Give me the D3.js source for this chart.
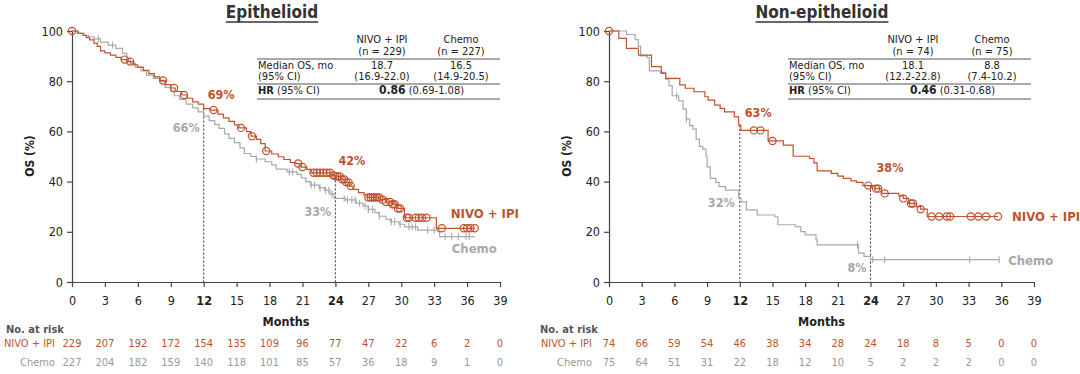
<!DOCTYPE html>
<html>
<head>
<meta charset="utf-8">
<script src="https://cdn.jsdelivr.net/npm/d3@7"></script>
<style>
  body { margin: 0; background: #fff; }
  svg text { font-family: 'DejaVu Sans Condensed', 'DejaVu Sans', sans-serif; }
</style>
</head>
<body>
<svg id="chart" width="1080" height="374"></svg>
<script>
const months = [0, 3, 6, 9, 12, 15, 18, 21, 24, 27, 30, 33, 36, 39];
const yTicks = [0, 20, 40, 60, 80, 100];

// Epithelioid: step points [month, OS %]
const epiNivoCurve = [[0,100],[0.5,99.1],[1.0,98.3],[1.3,97.4],[1.6,96.5],[2.0,95.2],[2.3,93.9],[2.6,92.1],[3.0,91.3],
  [3.5,90.4],[4.0,89.5],[4.5,88.6],[5.0,87.8],[5.6,86.5],[6.0,85.6],[6.5,84.3],[7.0,83.0],[7.5,81.7],[8.0,80.3],
  [8.5,78.6],[9.0,77.3],[9.4,75.9],[10.0,74.5],[10.5,73.2],[11.0,71.8],[11.5,70.9],[12.0,69.1],[12.6,68.5],
  [13.3,66.9],[13.8,65.4],[14.3,64.0],[14.8,62.6],[15.2,61.4],[15.9,59.9],[16.3,58.1],[16.8,56.8],[17.2,55.1],
  [17.6,52.2],[18.2,51.0],[18.8,49.9],[19.3,48.8],[19.9,47.6],[20.4,47.2],[20.9,45.8],[21.4,44.9],[21.8,43.5],
  [23.6,42.5],[24.0,42.1],[24.5,40.9],[24.9,39.7],[25.3,38.2],[25.6,36.9],[26.1,35.6],[26.6,34.8],[26.9,33.7],
  [28.1,32.8],[28.6,31.9],[29.2,31.0],[29.7,29.3],[30.3,25.6],[33.2,21.4],[36.7,21.4]];
const epiNivoCensor = [0, 4.8, 5.3, 8.3, 9.3, 10.2, 12.9, 15.4, 16.4, 17.7, 20.6, 21.0, 22.0, 22.3, 22.6, 22.9,
  23.2, 23.5, 23.8, 24.0, 24.2, 24.4, 24.6, 24.8, 25.0, 25.2, 25.4, 27.0, 27.2, 27.4, 27.6, 27.8, 28.0, 28.3,
  28.6, 29.0, 29.2, 29.4, 29.7, 29.9, 30.5, 30.7, 31.3, 31.6, 31.9, 32.3, 33.7, 35.7, 36.0, 36.3, 36.7];
const epiChemoCurve = [[0,100],[0.6,99.1],[1.1,98.2],[1.5,97.7],[2.0,96.9],[2.6,95.6],[3.3,94.4],[4.0,93.1],
  [4.6,91.1],[5.0,89.0],[5.3,87.1],[5.8,85.5],[6.3,84.1],[6.8,82.4],[7.4,81.1],[8.0,79.8],[8.5,77.5],[9.0,75.8],
  [9.3,74.2],[9.8,72.7],[10.4,70.9],[11.0,69.4],[11.5,67.8],[12.0,66.1],[12.5,64.3],[13.0,62.8],[13.4,61.2],
  [13.9,59.0],[14.3,57.2],[14.8,55.5],[15.3,53.4],[15.7,51.2],[16.3,50.0],[16.8,49.0],[17.6,47.9],[18.2,46.7],
  [18.6,45.0],[19.6,43.9],[20.5,42.9],[20.9,41.5],[21.3,40.0],[21.7,38.6],[22.5,37.5],[23.0,36.6],[23.5,35.0],
  [23.9,33.3],[24.9,32.7],[25.9,31.4],[26.5,30.3],[27.0,28.9],[27.6,27.6],[28.0,26.2],[28.6,25.0],[29.0,24.0],
  [29.8,23.0],[30.3,22.0],[31.5,20.7],[33.3,20.1],[33.5,18.1],[36.7,18.1]];
const epiChemoCensor = [2.4, 3.7, 16.8, 19.8, 20.1, 21.8, 22.1, 22.6, 23.1, 23.4, 23.7, 24.8, 25.1, 25.5, 25.8,
  26.2, 26.7, 27.0, 27.4, 28.0, 29.1, 29.4, 29.9, 30.7, 31.0, 31.3, 32.4, 33.0, 34.0, 34.6, 35.2, 35.9, 36.2];
const epiRiskNivo = [229, 207, 192, 172, 154, 135, 109, 96, 77, 47, 22, 6, 2, 0];
const epiRiskChemo = [227, 204, 182, 159, 140, 118, 101, 85, 57, 36, 18, 9, 1, 0];
const epiTable = ["(n = 229)", "(n = 227)", "18.7", "16.5", "(16.9-22.0)", "(14.9-20.5)", "0.86", "(0.69-1.08)"];
const epiMarks = [["69%", "66%"], ["42%", "33%"]];

// Non-epithelioid
const nonNivoCurve = [[0,100],[0.9,97.1],[1.6,93.1],[2.7,90.4],[3.9,85.8],[4.8,83.1],[5.2,81.1],[6.5,78.5],
  [7.0,77.2],[7.8,75.8],[8.8,73.8],[9.1,72.5],[9.7,70.5],[10.2,69.2],[10.6,67.8],[11.5,65.8],[11.9,62.5],
  [12.1,60.4],[14.6,56.2],[16.0,54.5],[16.9,50.1],[18.4,49.2],[18.8,47.5],[19.1,44.3],[20.4,43.3],[21.0,42.2],
  [21.5,41.3],[22.2,40.3],[22.7,39.7],[23.3,38.4],[24.4,37.2],[25.0,35.3],[26.6,34.3],[27.0,33.3],[27.5,31.3],
  [28.2,30.0],[28.6,29.0],[29.2,26.1],[35.7,26.1]];
const nonNivoCensor = [0, 13.3, 13.9, 15.0, 23.8, 24.5, 24.7, 25.3, 27.0, 27.7, 27.9, 28.6, 29.6, 30.3, 31.0,
  31.3, 33.2, 33.9, 34.6, 35.7];
const nonChemoCurve = [[0,100],[1.6,98.6],[2.4,96.6],[2.7,94.0],[2.9,90.1],[3.5,89.4],[3.7,84.1],[4.7,83.5],
  [5.2,80.8],[5.5,78.2],[5.8,74.2],[6.4,72.2],[6.8,68.9],[7.1,64.9],[7.4,62.3],[7.7,60.9],[8.0,56.9],[8.3,54.0],
  [8.6,52.9],[8.9,50.2],[9.0,45.9],[9.3,41.3],[9.8,39.7],[10.1,38.0],[10.7,36.6],[11.9,33.5],[12.1,32.0],
  [12.6,28.7],[13.6,26.7],[15.2,26.0],[15.5,22.8],[17.1,22.1],[17.6,20.1],[18.0,18.8],[19.0,16.8],[19.1,14.8],
  [22.9,11.5],[23.4,10.2],[24.0,8.9],[35.8,8.9]];
const nonChemoCensor = [2.7, 6.2, 7.1, 22.8, 24.2, 25.3, 33.1, 35.8];
const nonRiskNivo = [74, 66, 59, 54, 46, 38, 34, 28, 24, 18, 8, 5, 0, 0];
const nonRiskChemo = [75, 64, 51, 31, 22, 18, 12, 10, 5, 2, 2, 2, 0, 0];
const nonTable = ["(n = 74)", "(n = 75)", "18.1", "8.8", "(12.2-22.8)", "(7.4-10.2)", "0.46", "(0.31-0.68)"];
const nonMarks = [["63%", "32%"], ["38%", "8%"]];

const ORANGE = "#c0532d", GRAY = "#a9a9a9", DARK = "#222";
const svg = d3.select("#chart");

const survAt = (curve, t) => {
  let s = curve[0][1];
  curve.forEach((p) => { if (p[0] <= t) s = p[1]; });
  return s;
};

const drawPanel = (cfg) => {
  const x = d3.scaleLinear().domain([0, 39]).range([cfg.x0, cfg.x1]);
  const y = d3.scaleLinear().domain([0, 100]).range([282, 31]);
  const g = svg.append("g");

  // title
  const title = g.append("text").attr("x", cfg.titleX).attr("y", 18).attr("text-anchor", "middle")
    .attr("font-size", 17).attr("font-weight", "bold").attr("fill", "#333").text(cfg.title);
  const bb = title.node().getBBox();
  g.append("line").attr("x1", bb.x).attr("x2", bb.x + bb.width).attr("y1", 22).attr("y2", 22)
    .attr("stroke", "#333").attr("stroke-width", 1.3);

  // axes
  const xAxis = g.append("g").attr("transform", "translate(0,282)")
    .call(d3.axisBottom(x).tickValues(months).tickSize(5).tickSizeOuter(0).tickPadding(9));
  xAxis.selectAll("text").attr("font-size", 12.5).attr("fill", DARK)
    .attr("font-weight", (d) => (d === 12 || d === 24 ? "bold" : "normal"));
  const yAxis = g.append("g").attr("transform", `translate(${cfg.x0},0)`)
    .call(d3.axisLeft(y).tickValues(yTicks).tickSize(5).tickSizeOuter(0).tickPadding(4));
  yAxis.selectAll("text").attr("font-size", 12.5).attr("fill", DARK);
  g.selectAll(".domain, .tick line").attr("stroke", "#444").attr("stroke-width", 1.2);

  g.append("text").attr("transform", `translate(${cfg.x0 - 38},156) rotate(-90)`).attr("text-anchor", "middle")
    .attr("font-size", 12).attr("font-weight", "bold").attr("fill", DARK).text("OS (%)");
  g.append("text").attr("x", x(19.5)).attr("y", 326).attr("text-anchor", "middle")
    .attr("font-size", 12.5).attr("font-weight", "bold").attr("fill", DARK).text("Months");

  // landmark dashed lines
  [12, 24].forEach((t) => {
    const top = Math.max(survAt(cfg.nivo, t), survAt(cfg.chemo, t));
    g.append("line").attr("x1", x(t)).attr("x2", x(t)).attr("y1", y(top)).attr("y2", y(0))
      .attr("stroke", "#333").attr("stroke-width", 1).attr("stroke-dasharray", "2,2");
  });

  const line = d3.line().x((d) => x(d[0])).y((d) => y(d[1])).curve(d3.curveStepAfter);
  g.append("path").datum(cfg.chemo).attr("d", line).attr("fill", "none")
    .attr("stroke", GRAY).attr("stroke-width", 1.2);
  g.append("path").datum(cfg.nivo).attr("d", line).attr("fill", "none")
    .attr("stroke", ORANGE).attr("stroke-width", 1.2);

  g.selectAll(".cens").data(cfg.chemoCensor).enter().append("line")
    .attr("x1", (d) => x(d)).attr("x2", (d) => x(d))
    .attr("y1", (d) => y(survAt(cfg.chemo, d)) - 3.5).attr("y2", (d) => y(survAt(cfg.chemo, d)) + 3.5)
    .attr("stroke", GRAY).attr("stroke-width", 1.1);
  g.selectAll(".circ").data(cfg.nivoCensor).enter().append("circle")
    .attr("cx", (d) => x(d)).attr("cy", (d) => y(survAt(cfg.nivo, d))).attr("r", 3.6)
    .attr("fill", "none").attr("stroke", ORANGE).attr("stroke-width", 1.2);

  // landmark labels
  cfg.marks.forEach((m, i) => {
    const t = [12, 24][i];
    g.append("text").attr("x", x(t) + cfg.markDx[i][0]).attr("y", y(survAt(cfg.nivo, t)) + cfg.markDy[i][0])
      .attr("font-size", 12.5).attr("font-weight", "bold").attr("fill", ORANGE).text(m[0]);
    g.append("text").attr("x", x(t) + cfg.markDx[i][1]).attr("y", y(survAt(cfg.chemo, t)) + cfg.markDy[i][1])
      .attr("text-anchor", "end").attr("font-size", 12.5).attr("font-weight", "bold").attr("fill", GRAY).text(m[1]);
  });

  // curve labels
  const nEnd = cfg.nivo[cfg.nivo.length - 1], cEnd = cfg.chemo[cfg.chemo.length - 1];
  g.append("text").attr("x", x(nEnd[0]) + cfg.labDx[0]).attr("y", y(nEnd[1]) + cfg.labDy[0])
    .attr("font-size", 13).attr("font-weight", "bold").attr("fill", ORANGE).text("NIVO + IPI");
  g.append("text").attr("x", x(cEnd[0]) + cfg.labDx[1]).attr("y", y(cEnd[1]) + cfg.labDy[1])
    .attr("font-size", 13).attr("font-weight", "bold").attr("fill", GRAY).text("Chemo");

  // summary table
  const tb = cfg.table, c1 = cfg.tx + 125, c2 = cfg.tx + 204;
  const txt = (xx, yy, s, anchor) => g.append("text").attr("x", xx).attr("y", yy)
    .attr("text-anchor", anchor || "middle").attr("font-size", 11).attr("fill", DARK).text(s);
  txt(c1, 43, "NIVO + IPI"); txt(c1, 55, tb[0]);
  txt(c2, 43, "Chemo"); txt(c2, 55, tb[1]);
  txt(cfg.tx + 1, 69, "Median OS, mo", "start"); txt(cfg.tx + 1, 80, "(95% CI)", "start");
  txt(c1, 69, tb[2]); txt(c2, 69, tb[3]); txt(c1, 80, tb[4]); txt(c2, 80, tb[5]);
  const hr = g.append("text").attr("x", cfg.tx + 1).attr("y", 94).attr("font-size", 11).attr("fill", DARK);
  hr.append("tspan").attr("font-weight", "bold").text("HR");
  hr.append("tspan").text(" (95% CI)");
  const hv = g.append("text").attr("x", (c1 + c2) / 2).attr("y", 94).attr("text-anchor", "middle")
    .attr("font-size", 11).attr("fill", DARK);
  hv.append("tspan").attr("font-weight", "bold").attr("font-size", 12).text(tb[6]);
  hv.append("tspan").text(" " + tb[7]);
  [59, 84, 99].forEach((yy) => {
    g.append("line").attr("x1", cfg.tx).attr("x2", cfg.tx + 243).attr("y1", yy).attr("y2", yy)
      .attr("stroke", "#555").attr("stroke-width", 1);
  });

  // number at risk
  g.append("text").attr("x", cfg.riskX).attr("y", 333).attr("font-size", 11).attr("font-weight", "bold")
    .attr("fill", "#555").text("No. at risk");
  g.append("text").attr("x", cfg.x0 - 17).attr("y", 347).attr("text-anchor", "end").attr("font-size", 11)
    .attr("fill", ORANGE).text("NIVO + IPI");
  g.append("text").attr("x", cfg.x0 - 17).attr("y", 366).attr("text-anchor", "end").attr("font-size", 11)
    .attr("fill", "#999").text("Chemo");
  g.selectAll(".rn").data(cfg.riskNivo).enter().append("text")
    .attr("x", (d, i) => x(months[i])).attr("y", 347).attr("text-anchor", "middle")
    .attr("font-size", 11).attr("fill", ORANGE).text((d) => d);
  g.selectAll(".rc").data(cfg.riskChemo).enter().append("text")
    .attr("x", (d, i) => x(months[i])).attr("y", 366).attr("text-anchor", "middle")
    .attr("font-size", 11).attr("fill", "#999").text((d) => d);
};

drawPanel({
  title: "Epithelioid", titleX: 272, x0: 72, x1: 500, tx: 257, riskX: 6,
  nivo: epiNivoCurve, chemo: epiChemoCurve, nivoCensor: epiNivoCensor, chemoCensor: epiChemoCensor,
  riskNivo: epiRiskNivo, riskChemo: epiRiskChemo, table: epiTable, marks: epiMarks,
  markDx: [[4, -4], [3, -4]], markDy: [[-10, 16], [-11, 18]],
  labDx: [-24, -23], labDy: [-10, 16]
});
drawPanel({
  title: "Non-epithelioid", titleX: 822, x0: 609, x1: 1034, tx: 788, riskX: 540,
  nivo: nonNivoCurve, chemo: nonChemoCurve, nivoCensor: nonNivoCensor, chemoCensor: nonChemoCensor,
  riskNivo: nonRiskNivo, riskChemo: nonRiskChemo, table: nonTable, marks: nonMarks,
  markDx: [[5, -5], [6, -4]], markDy: [[-8, 9], [-14, 12]],
  labDx: [14, 9], labDy: [5, 5]
});
</script>
</body>
</html>
